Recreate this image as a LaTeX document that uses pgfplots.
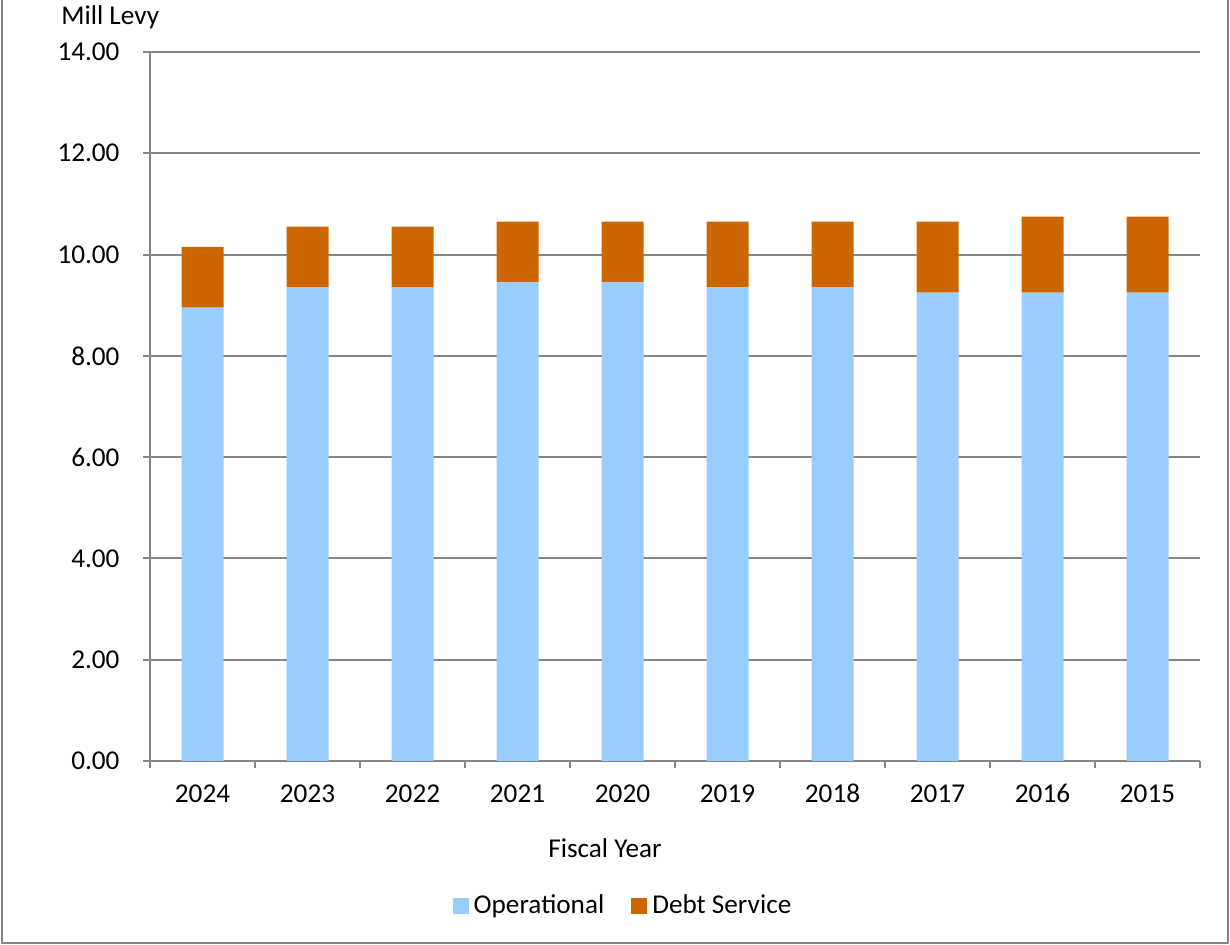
\documentclass[border=0pt]{standalone}
\usepackage{fontspec}
\setmainfont{Carlito}
\usepackage{pgfplots}
\pgfplotsset{compat=1.18}
\definecolor{opblue}{HTML}{99CCFF}
\definecolor{debtorange}{HTML}{CC6600}
\definecolor{axgray}{HTML}{868686}
\newcommand{\cfont}{\fontsize{13.6}{16}\selectfont}
\begin{document}
\cfont
\begin{tikzpicture}
\useasboundingbox (0,0) rectangle (615pt,472.5pt);
\draw[axgray, line width=0.75pt] (1pt,472.5pt) -- (1pt,1pt) -- (614pt,1pt) -- (614pt,472.5pt);
\begin{axis}[
  at={(75pt,92pt)}, anchor=south west,
  scale only axis, width=525pt, height=354.5pt,
  ybar stacked, bar width=21pt,
  xmin=-0.5, xmax=9.5, ymin=0, ymax=14,
  xtick={0,...,9},
  xticklabels={2024,2023,2022,2021,2020,2019,2018,2017,2016,2015},
  minor xtick={-0.5,0.5,...,9.5},
  ytick={0,2,...,14},
  axis x line*=bottom, axis y line*=left,
  axis line style={axgray, line width=1pt, -},
  ymajorgrids, grid style={axgray, line width=1pt},
  tick align=outside,
  major tick length=3.5pt, minor tick length=3.5pt,
  major x tick style={draw=none},
  minor x tick style={axgray, line width=1pt},
  ytick style={axgray, line width=1pt},
  tick label style={font=\cfont, text=black},
  x tick label style={text height=9pt, text depth=0pt, anchor=north, yshift=-3.5pt},
  y tick label style={xshift=-7pt, /pgf/number format/fixed, /pgf/number format/fixed zerofill, /pgf/number format/precision=2, /pgf/number format/assume math mode=true},
  legend style={at={(0.4519,-0.2045)}, anchor=center, draw=none, legend columns=2,
    font=\cfont, /tikz/every even column/.append style={column sep=11pt},
    nodes={inner xsep=2.5pt}},
]
\addplot[fill=opblue, draw=none, legend image code/.code={\fill[opblue] (0pt,-4pt) rectangle (8pt,4pt);}] coordinates {
 (0,8.95) (1,9.35) (2,9.35) (3,9.45) (4,9.45) (5,9.35) (6,9.35) (7,9.25) (8,9.25) (9,9.25)};
\addlegendentry{Operational}
\addplot[fill=debtorange, draw=none, legend image code/.code={\fill[debtorange] (0pt,-4pt) rectangle (8pt,4pt);}] coordinates {
 (0,1.20) (1,1.20) (2,1.20) (3,1.20) (4,1.20) (5,1.30) (6,1.30) (7,1.40) (8,1.50) (9,1.50)};
\addlegendentry{Debt Service}
\end{axis}
\node[anchor=base west, inner sep=0] at (30.5pt,460pt) {Mill Levy};
\node[anchor=base, inner sep=0] at (302.5pt,43.5pt) {Fiscal Year};
\end{tikzpicture}
\end{document}
